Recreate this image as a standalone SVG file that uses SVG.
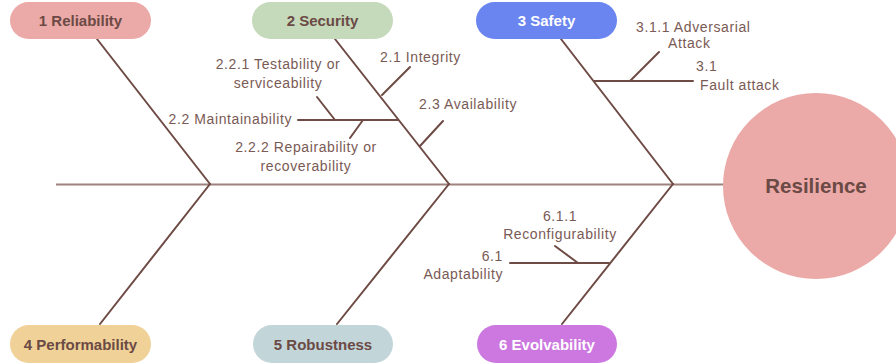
<svg xmlns="http://www.w3.org/2000/svg" width="896" height="364" viewBox="0 0 896 364">
<style>
.pill-t{font-family:"Liberation Sans",Arial,sans-serif;font-weight:bold;font-size:15px;text-anchor:middle;fill:#6B4A45}
.w{fill:#ffffff}
.lbl{font-family:"Liberation Sans",Arial,sans-serif;font-size:14px;letter-spacing:0.6px;fill:#7A5A55}
.bone{stroke:#6E4B45;stroke-width:2;fill:none;stroke-linecap:round}
.spine{stroke:#9E827D;stroke-width:2;fill:none}
</style>
<rect width="896" height="364" fill="#ffffff"/>
<g id="connectors">
<line class="spine" x1="56" y1="184.5" x2="724" y2="184.5"/>
<line class="bone" x1="97" y1="39" x2="210" y2="184"/>
<line class="bone" x1="335" y1="39" x2="449" y2="184"/>
<line class="bone" x1="561" y1="39" x2="673" y2="184"/>
<line class="bone" x1="100" y1="324" x2="210" y2="184"/>
<line class="bone" x1="337" y1="324" x2="449" y2="184"/>
<line class="bone" x1="562" y1="324" x2="673" y2="184"/>
<line class="bone" x1="382" y1="95" x2="410" y2="67"/>
<line class="bone" x1="298" y1="120" x2="398" y2="120"/>
<line class="bone" x1="317" y1="97" x2="335" y2="120"/>
<line class="bone" x1="363" y1="120" x2="350" y2="138"/>
<line class="bone" x1="420" y1="146" x2="443" y2="121"/>
<line class="bone" x1="594" y1="81" x2="693" y2="81"/>
<line class="bone" x1="630" y1="81" x2="659" y2="52"/>
<line class="bone" x1="510" y1="263" x2="609" y2="263"/>
<line class="bone" x1="555" y1="246" x2="578" y2="263"/>
</g>
<g id="n1"><rect x="10" y="2" width="141" height="37" rx="18.5" fill="#EBA9A7"/><text class="pill-t" x="80.5" y="26">1 Reliability</text></g>
<g id="n2"><rect x="252" y="2" width="141" height="37" rx="18.5" fill="#C5D9BB"/><text class="pill-t" x="322.5" y="26">2 Security</text></g>
<g id="n3"><rect x="476" y="2" width="141" height="37" rx="18.5" fill="#6A84F0"/><text class="pill-t w" x="546.5" y="26">3 Safety</text></g>
<g id="n4"><rect x="10" y="325" width="141" height="38" rx="19" fill="#F0D197"/><text class="pill-t" x="80.5" y="349.5">4 Performability</text></g>
<g id="n5"><rect x="253" y="325" width="140" height="38" rx="19" fill="#C2D5D9"/><text class="pill-t" x="323" y="349.5">5 Robustness</text></g>
<g id="n6"><rect x="477" y="325" width="140" height="38" rx="19" fill="#CC78E0"/><text class="pill-t w" x="547" y="349.5">6 Evolvability</text></g>
<g id="resilience"><circle cx="816" cy="186" r="93" fill="#EBA9A7"/><text x="816" y="193" font-family="Liberation Sans, Arial, sans-serif" font-weight="bold" font-size="20.5" text-anchor="middle" fill="#6B4A45">Resilience</text></g>
<g id="labels">
<text class="lbl" x="380" y="62">2.1 Integrity</text>
<text class="lbl" x="278" y="69" text-anchor="middle">2.2.1 Testability or</text>
<text class="lbl" x="278" y="88" text-anchor="middle">serviceability</text>
<text class="lbl" x="292" y="124" text-anchor="end">2.2 Maintainability</text>
<text class="lbl" x="306" y="152" text-anchor="middle">2.2.2 Repairability or</text>
<text class="lbl" x="306" y="171" text-anchor="middle">recoverability</text>
<text class="lbl" x="419" y="109">2.3 Availability</text>
<text class="lbl" x="636" y="32">3.1.1 Adversarial</text>
<text class="lbl" x="668" y="48">Attack</text>
<text class="lbl" x="696" y="71">3.1</text>
<text class="lbl" x="700" y="90">Fault attack</text>
<text class="lbl" x="560" y="221" text-anchor="middle">6.1.1</text>
<text class="lbl" x="560" y="239" text-anchor="middle">Reconfigurability</text>
<text class="lbl" x="503" y="261" text-anchor="end">6.1</text>
<text class="lbl" x="503" y="279" text-anchor="end">Adaptability</text>
</g>
</svg>
